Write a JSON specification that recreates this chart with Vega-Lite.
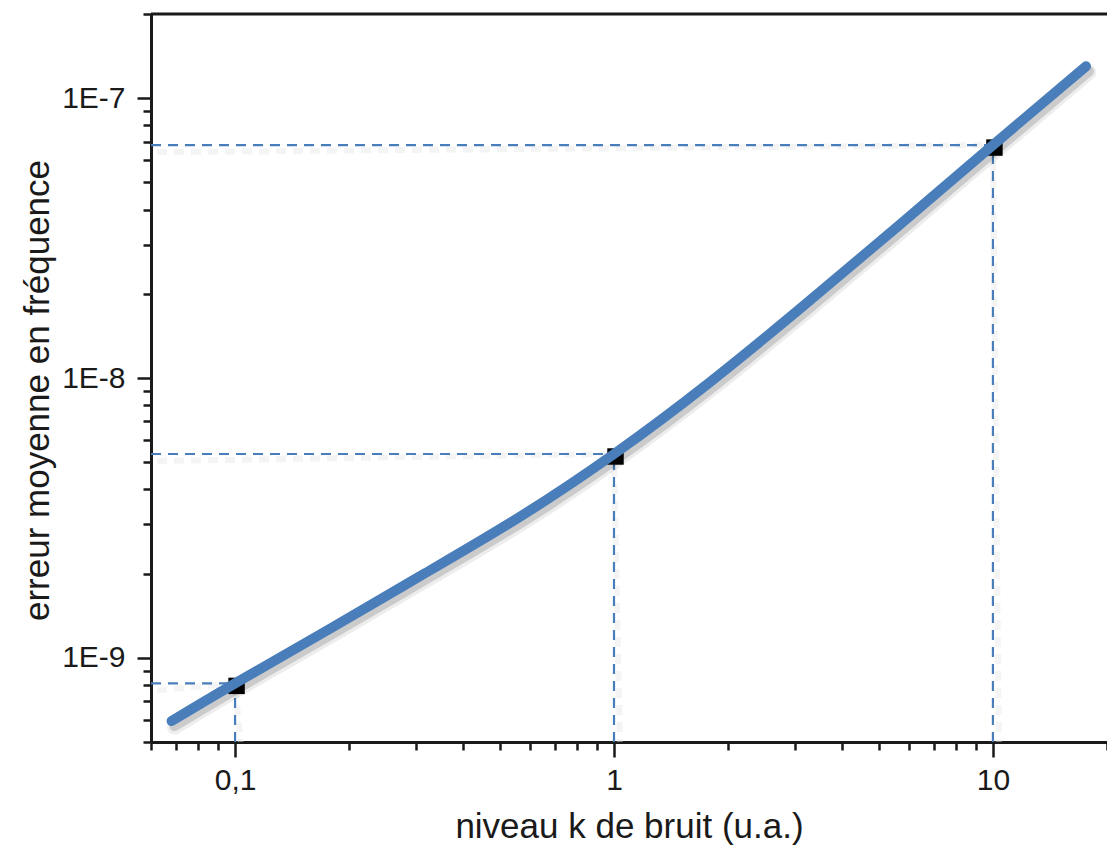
{
  "$schema": "https://vega.github.io/schema/vega-lite/v6.json",
  "width": 956,
  "height": 728,
  "autosize": {"type": "none"},
  "padding": {"left": 151, "top": 14, "right": 0, "bottom": 108},
  "background": "white",
  "config": {
    "view": {"stroke": null},
    "font": "Liberation Sans",
    "axis": {
      "grid": false,
      "domainColor": "#1a1a1a",
      "domainWidth": 3,
      "tickColor": "#1a1a1a",
      "tickWidth": 2.5,
      "labelFont": "Liberation Sans",
      "labelFontSize": 30,
      "labelColor": "#1a1a1a",
      "titleFont": "Liberation Sans",
      "titleFontSize": 35,
      "titleFontWeight": "normal",
      "titleColor": "#1a1a1a"
    }
  },
  "datasets": {
    "curve": [
      {"k": 0.068, "err": 5.94e-10},
      {"k": 0.1, "err": 8.1e-10},
      {"k": 0.178, "err": 1.27e-9},
      {"k": 0.316, "err": 2.0e-9},
      {"k": 0.562, "err": 3.18e-9},
      {"k": 1.0, "err": 5.35e-9},
      {"k": 1.78, "err": 9.6e-9},
      {"k": 3.16, "err": 1.81e-8},
      {"k": 5.62, "err": 3.49e-8},
      {"k": 10, "err": 6.8e-8},
      {"k": 17.6, "err": 1.3e-7}
    ],
    "markers": [
      {"k": 0.1, "err": 8.1e-10},
      {"k": 1, "err": 5.35e-9},
      {"k": 10, "err": 6.8e-8}
    ],
    "guides": [
      {"k1": 0.06, "k2": 0.1, "e1": 8.1e-10, "e2": 8.1e-10},
      {"k1": 0.1, "k2": 0.1, "e1": 5e-10, "e2": 8.1e-10},
      {"k1": 0.06, "k2": 1, "e1": 5.35e-9, "e2": 5.35e-9},
      {"k1": 1, "k2": 1, "e1": 5e-10, "e2": 5.35e-9},
      {"k1": 0.06, "k2": 10, "e1": 6.8e-8, "e2": 6.8e-8},
      {"k1": 10, "k2": 10, "e1": 5e-10, "e2": 6.8e-8}
    ],
    "border": [
      {"k1": 0.06, "k2": 20, "err": 2e-7}
    ]
  },
  "layer": [
    {
      "data": {"name": "guides"},
      "mark": {"type": "rule", "color": "#e6e6e6", "strokeWidth": 6, "strokeDash": [10, 7], "opacity": 0.45, "xOffset": 6, "yOffset": 7, "clip": true},
      "encoding": {
        "x": {"field": "k1", "type": "quantitative", "scale": {"type": "log", "domain": [0.06, 20], "nice": false}, "axis": null},
        "x2": {"field": "k2"},
        "y": {"field": "e1", "type": "quantitative", "scale": {"type": "log", "domain": [5e-10, 2e-7], "nice": false}, "axis": null},
        "y2": {"field": "e2"}
      }
    },
    {
      "data": {"name": "guides"},
      "mark": {"type": "rule", "color": "#4a7ebb", "strokeWidth": 2.2, "strokeDash": [10, 7]},
      "encoding": {
        "x": {"field": "k1", "type": "quantitative", "scale": {"type": "log", "domain": [0.06, 20], "nice": false}, "axis": null},
        "x2": {"field": "k2"},
        "y": {"field": "e1", "type": "quantitative", "scale": {"type": "log", "domain": [5e-10, 2e-7], "nice": false}, "axis": null},
        "y2": {"field": "e2"}
      }
    },
    {
      "data": {"name": "markers"},
      "mark": {"type": "point", "shape": "square", "filled": true, "color": "#000000", "size": 270, "opacity": 1, "xOffset": 1.5, "yOffset": 2.5},
      "encoding": {
        "x": {"field": "k", "type": "quantitative", "scale": {"type": "log", "domain": [0.06, 20], "nice": false},
          "axis": {"orient": "bottom", "values": [0.06, 0.07, 0.08, 0.09, 0.2, 0.3, 0.4, 0.5, 0.6, 0.7, 0.8, 0.9, 2, 3, 4, 5, 6, 7, 8, 9, 20], "tickSize": 8, "labels": false, "domain": false, "title": null}},
        "y": {"field": "err", "type": "quantitative", "scale": {"type": "log", "domain": [5e-10, 2e-7], "nice": false},
          "axis": {"orient": "left", "values": [5e-10, 6e-10, 7e-10, 8e-10, 9e-10, 2e-9, 3e-9, 4e-9, 5e-9, 6e-9, 7e-9, 8e-9, 9e-9, 2e-8, 3e-8, 4e-8, 5e-8, 6e-8, 7e-8, 8e-8, 9e-8, 2e-7], "tickSize": 8, "labels": false, "domain": false, "title": null}}
      }
    },
    {
      "data": {"name": "curve"},
      "mark": {"type": "line", "color": "#000000", "opacity": 0.07, "strokeWidth": 15, "strokeCap": "round", "interpolate": "natural", "xOffset": 3, "yOffset": 6},
      "encoding": {
        "x": {"field": "k", "type": "quantitative", "scale": {"type": "log", "domain": [0.06, 20], "nice": false}, "axis": null},
        "y": {"field": "err", "type": "quantitative", "scale": {"type": "log", "domain": [5e-10, 2e-7], "nice": false}, "axis": null}
      }
    },
    {
      "data": {"name": "curve"},
      "mark": {"type": "line", "color": "#000000", "opacity": 0.14, "strokeWidth": 10, "strokeCap": "round", "interpolate": "natural", "xOffset": 3, "yOffset": 5},
      "encoding": {
        "x": {"field": "k", "type": "quantitative", "scale": {"type": "log", "domain": [0.06, 20], "nice": false}, "axis": null},
        "y": {"field": "err", "type": "quantitative", "scale": {"type": "log", "domain": [5e-10, 2e-7], "nice": false}, "axis": null}
      }
    },
    {
      "data": {"name": "curve"},
      "mark": {"type": "line", "color": "#4a7ebb", "strokeWidth": 10, "strokeCap": "round", "interpolate": "natural"},
      "encoding": {
        "x": {"field": "k", "type": "quantitative", "scale": {"type": "log", "domain": [0.06, 20], "nice": false},
          "axis": {"orient": "bottom", "values": [0.1, 1, 10], "tickSize": 15, "labelPadding": 8, "labelExpr": "datum.value < 0.5 ? '0,1' : datum.value < 5 ? '1' : '10'", "title": "niveau k de bruit (u.a.)", "titleBaseline": "alphabetic", "titleY": 95}},
        "y": {"field": "err", "type": "quantitative", "scale": {"type": "log", "domain": [5e-10, 2e-7], "nice": false},
          "axis": {"orient": "left", "values": [1e-9, 1e-8, 1e-7], "tickSize": 14, "labelPadding": 12, "labelExpr": "'1E' + round(log(datum.value) / LN10)", "title": "erreur moyenne en fréquence", "titleAngle": -90, "titleAlign": "center", "titleBaseline": "alphabetic", "titleX": -103, "titleY": 376}}
      }
    },
    {
      "data": {"name": "border"},
      "mark": {"type": "rule", "color": "#1a1a1a", "strokeWidth": 3},
      "encoding": {
        "x": {"field": "k1", "type": "quantitative", "scale": {"type": "log", "domain": [0.06, 20], "nice": false}, "axis": null},
        "x2": {"field": "k2"},
        "y": {"field": "err", "type": "quantitative", "scale": {"type": "log", "domain": [5e-10, 2e-7], "nice": false}, "axis": null}
      }
    }
  ],
  "resolve": {"axis": {"x": "independent", "y": "independent"}}
}
